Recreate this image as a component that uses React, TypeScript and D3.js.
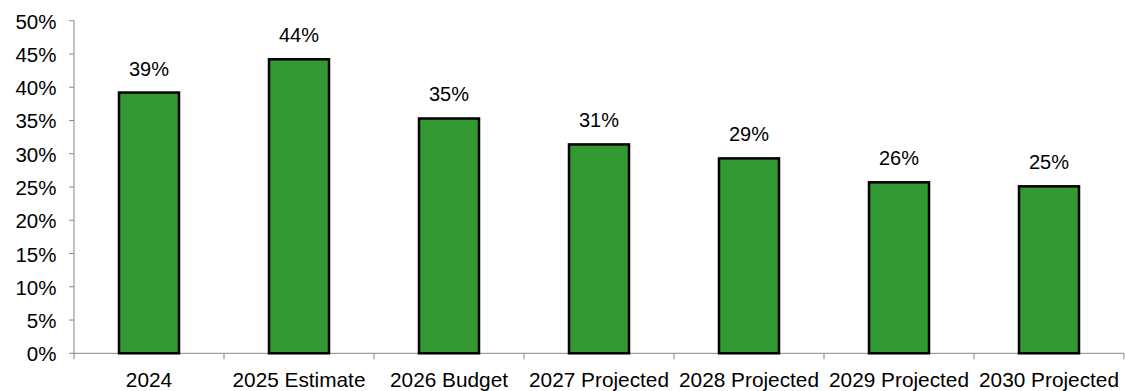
import React from "react";
import * as d3 from "d3";

const categories = ["2024", "2025 Estimate", "2026 Budget", "2027 Projected", "2028 Projected", "2029 Projected", "2030 Projected"];
const values = [39.2, 44.2, 35.3, 31.4, 29.3, 25.7, 25.1];
const yTicks = [0, 5, 10, 15, 20, 25, 30, 35, 40, 45, 50];

const W = 1125, H = 391;
const M = { left: 74, right: 1124, top: 20.7, bottom: 353.3 };
const FONT = "'Liberation Sans', Arial, sans-serif";

export default function App() {
  const x = d3.scaleBand<string>().domain(categories).range([M.left, M.right]).paddingInner(0.6).paddingOuter(0.3);
  const xb = d3.scaleBand<string>().domain(categories).range([M.left, M.right]);
  const y = d3.scaleLinear().domain([0, 50]).range([M.bottom, M.top]);
  const boundaries = [...categories.map((c) => xb(c) as number), M.right];
  return (
    <svg width={W} height={H} style={{ position: "absolute", left: 0, top: 0, background: "#fff" }} fontFamily={FONT}>
      <line x1={M.left} x2={M.left} y1={M.top} y2={M.bottom} stroke="#888" strokeWidth={1} />
      <line x1={M.left} x2={M.right} y1={M.bottom} y2={M.bottom} stroke="#888" strokeWidth={1} />
      {yTicks.map((t) => (
        <g key={t}>
          <line x1={M.left - 5} x2={M.left} y1={y(t)} y2={y(t)} stroke="#888" />
          <text x={56.5} y={y(t) + 8} textAnchor="end" fontSize={20.5} fill="#000">{t}%</text>
        </g>
      ))}
      {boundaries.map((b, i) => (
        <line key={i} x1={b} x2={b} y1={M.bottom} y2={M.bottom + 6} stroke="#888" />
      ))}
      {categories.map((c, i) => (
        <g key={c}>
          <rect x={x(c)} y={y(values[i])} width={x.bandwidth()} height={M.bottom - y(values[i])} fill="#339933" stroke="#000" strokeWidth={2.5} />
          <text x={(x(c) as number) + x.bandwidth() / 2} y={y(values[i]) - 17} textAnchor="middle" fontSize={20} fill="#000">{Math.round(values[i])}%</text>
          <text x={(xb(c) as number) + xb.bandwidth() / 2} y={387.3} textAnchor="middle" fontSize={20.8} fill="#000">{c}</text>
        </g>
      ))}
    </svg>
  );
}
